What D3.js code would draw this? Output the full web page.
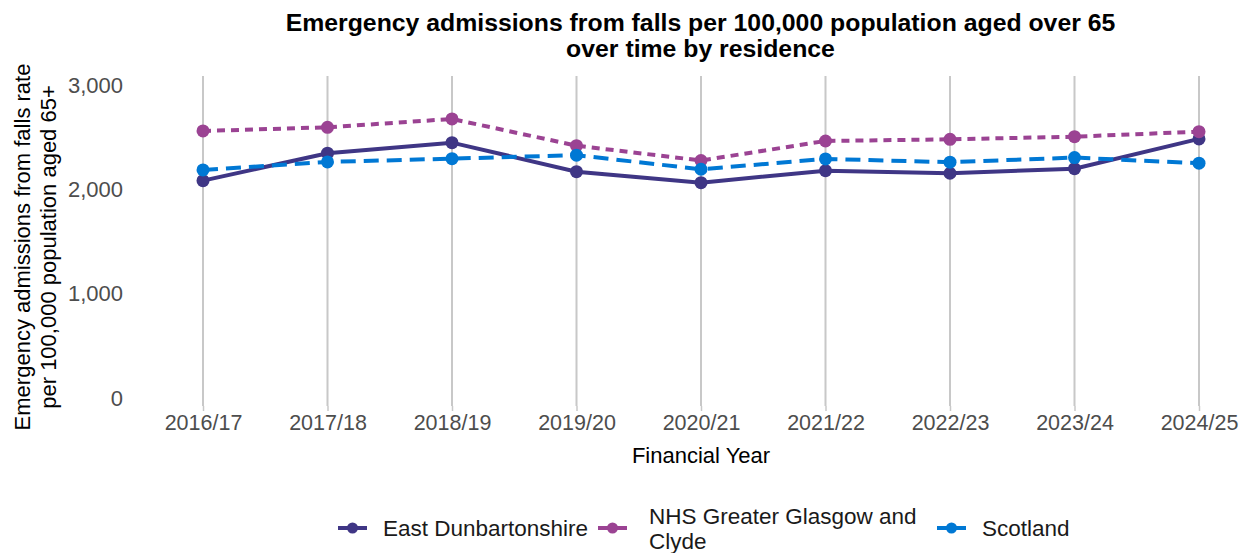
<!DOCTYPE html>
<html>
<head>
<meta charset="utf-8">
<script src="https://cdn.jsdelivr.net/npm/d3@7"></script>
<style>
  body { margin: 0; background: #fff; }
  svg { display: block; font-family: "Liberation Sans", Arial, sans-serif; }
</style>
</head>
<body>
<div id="chart"></div>
<script>
// --- Data ---
const years = ["2016/17", "2017/18", "2018/19", "2019/20", "2020/21", "2021/22", "2022/23", "2023/24", "2024/25"];
const eastDunbartonshire = [2084, 2347, 2448, 2170, 2065, 2180, 2155, 2199, 2484];
const nhsGGC = [2560, 2595, 2675, 2419, 2277, 2464, 2480, 2505, 2553];
const scotland = [2187, 2263, 2295, 2328, 2193, 2292, 2261, 2305, 2251];
const yTicks = [0, 1000, 2000, 3000];

const series = [
  { name: "East Dunbartonshire", values: eastDunbartonshire, color: "#3f3685", dash: null },
  { name: "NHS Greater Glasgow and Clyde", values: nhsGGC, color: "#9b4393", dash: "8,6" },
  { name: "Scotland", values: scotland, color: "#0078d4", dash: "15,8" }
];

// --------------------------
// CHART DIMENSIONS
// --------------------------
const width = 1251;
const height = 553;
const panel = { top: 76, bottom: 406 };

const svg = d3.select("#chart")
  .append("svg")
  .attr("width", width)
  .attr("height", height);

const x = d3.scalePoint()
  .domain(years)
  .range([203, 1199]);

const y = d3.scaleLinear()
  .domain([0, 3000])
  .range([398.3, 85]);

// Vertical gridlines (one per year)
svg.append("g")
  .selectAll("line")
  .data(years)
  .join("line")
    .attr("x1", d => x(d))
    .attr("x2", d => x(d))
    .attr("y1", panel.top)
    .attr("y2", panel.bottom)
    .attr("stroke", "#c8c8c8")
    .attr("stroke-width", 2);

// X axis
const xAxis = svg.append("g")
  .attr("transform", `translate(0, ${panel.bottom})`)
  .call(d3.axisBottom(x).tickSizeOuter(0).tickSizeInner(5).tickPadding(4));
xAxis.select(".domain").remove();
xAxis.selectAll(".tick line").attr("stroke", "#c8c8c8").attr("stroke-width", 1.5);
xAxis.selectAll(".tick text")
  .attr("fill", "#4d4d4d")
  .style("font-size", "21.5px");

// Y axis
const yAxis = svg.append("g")
  .attr("transform", `translate(123, 0)`)
  .call(d3.axisLeft(y).tickValues(yTicks).tickFormat(d3.format(",")).tickSize(0).tickPadding(0));
yAxis.select(".domain").remove();
yAxis.selectAll(".tick text")
  .attr("fill", "#4d4d4d")
  .style("font-size", "22px");

// Lines and points
const line = d3.line()
  .x((d, i) => x(years[i]))
  .y(d => y(d));

const seriesG = svg.append("g")
  .selectAll("g")
  .data(series)
  .join("g");

seriesG.append("path")
  .attr("d", d => line(d.values))
  .attr("fill", "none")
  .attr("stroke", d => d.color)
  .attr("stroke-width", 4)
  .attr("stroke-dasharray", d => d.dash);

seriesG.selectAll("circle")
  .data(d => d.values.map((v, i) => ({ v, i, color: d.color })))
  .join("circle")
    .attr("cx", d => x(years[d.i]))
    .attr("cy", d => y(d.v))
    .attr("r", 6.5)
    .attr("fill", d => d.color);

// Title
const title = svg.append("text")
  .attr("text-anchor", "middle")
  .attr("font-weight", "bold")
  .style("font-size", "24.8px")
  .attr("fill", "#000");
title.append("tspan").attr("x", 700.5).attr("y", 31)
  .text("Emergency admissions from falls per 100,000 population aged over 65");
title.append("tspan").attr("x", 700.5).attr("y", 57)
  .text("over time by residence");

// Axis titles
svg.append("text")
  .attr("x", 701)
  .attr("y", 463)
  .attr("text-anchor", "middle")
  .style("font-size", "22px")
  .attr("fill", "#000")
  .text("Financial Year");

const yTitle = svg.append("text")
  .attr("transform", "translate(0, 247) rotate(-90)")
  .attr("text-anchor", "middle")
  .style("font-size", "22px")
  .attr("fill", "#000");
yTitle.append("tspan").attr("x", 0).attr("y", 30)
  .text("Emergency admissions from falls rate");
yTitle.append("tspan").attr("x", 0).attr("y", 56)
  .text("per 100,000 population aged 65+");

// Legend
const legendItems = [
  { s: series[0], keyX: 338, textX: 383, lines: ["East Dunbartonshire"] },
  { s: series[1], keyX: 598, textX: 649, lines: ["NHS Greater Glasgow and", "Clyde"] },
  { s: series[2], keyX: 937, textX: 982, lines: ["Scotland"] }
];

const legend = svg.append("g");
legendItems.forEach(item => {
  const g = legend.append("g");
  g.append("line")
    .attr("x1", item.keyX).attr("x2", item.keyX + 29)
    .attr("y1", 528).attr("y2", 528)
    .attr("stroke", item.s.color)
    .attr("stroke-width", 4);
  g.append("circle")
    .attr("cx", item.keyX + 14.5).attr("cy", 528)
    .attr("r", 5.5)
    .attr("fill", item.s.color);
  const t = g.append("text")
    .style("font-size", "22.5px")
    .attr("fill", "#1a1a1a");
  const startY = item.lines.length === 1 ? 536 : 524;
  item.lines.forEach((ln, i) => {
    t.append("tspan").attr("x", item.textX).attr("y", startY + i * 25).text(ln);
  });
});
</script>
</body>
</html>
